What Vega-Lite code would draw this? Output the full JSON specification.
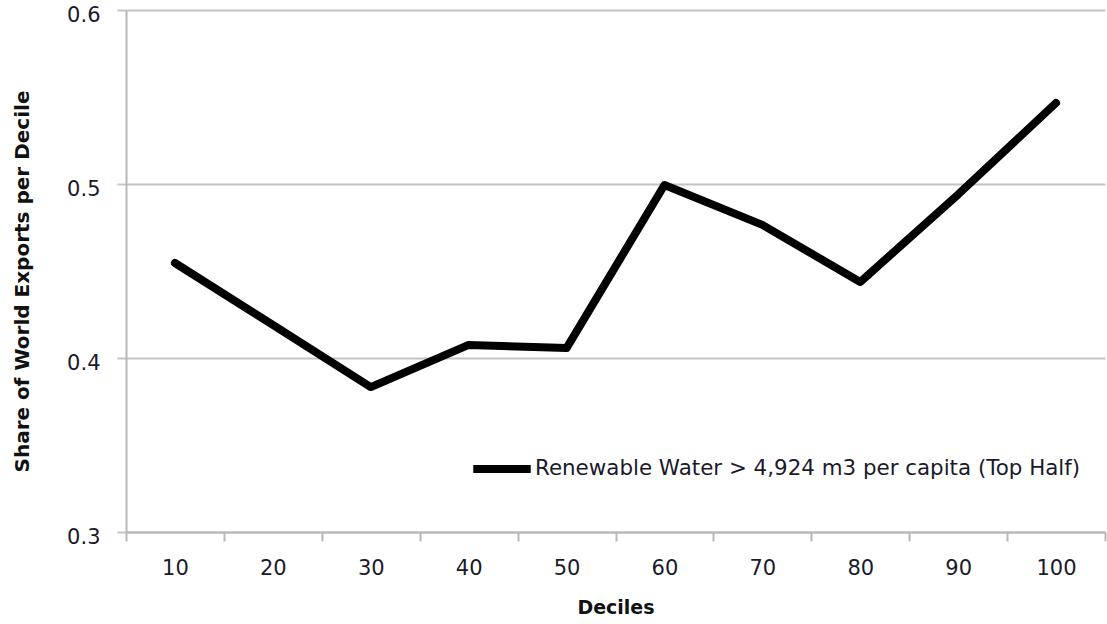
{
  "$schema": "https://vega.github.io/schema/vega-lite/v6.json",
  "width": 979,
  "height": 522,
  "autosize": {"type": "none"},
  "padding": {"left": 126, "top": 10, "right": 2, "bottom": 92},
  "background": "white",
  "config": {
    "view": {"stroke": null},
    "font": "DejaVu Sans"
  },
  "data": {
    "values": [
      {"decile": "10", "share": 0.4546, "series": "Renewable Water > 4,924 m3 per capita (Top Half)"},
      {"decile": "20", "share": 0.419, "series": "Renewable Water > 4,924 m3 per capita (Top Half)"},
      {"decile": "30", "share": 0.3833, "series": "Renewable Water > 4,924 m3 per capita (Top Half)"},
      {"decile": "40", "share": 0.4075, "series": "Renewable Water > 4,924 m3 per capita (Top Half)"},
      {"decile": "50", "share": 0.4057, "series": "Renewable Water > 4,924 m3 per capita (Top Half)"},
      {"decile": "60", "share": 0.4994, "series": "Renewable Water > 4,924 m3 per capita (Top Half)"},
      {"decile": "70", "share": 0.4765, "series": "Renewable Water > 4,924 m3 per capita (Top Half)"},
      {"decile": "80", "share": 0.4437, "series": "Renewable Water > 4,924 m3 per capita (Top Half)"},
      {"decile": "90", "share": 0.494, "series": "Renewable Water > 4,924 m3 per capita (Top Half)"},
      {"decile": "100", "share": 0.5466, "series": "Renewable Water > 4,924 m3 per capita (Top Half)"}
    ]
  },
  "mark": {"type": "line", "strokeWidth": 8, "strokeCap": "round", "strokeJoin": "round"},
  "encoding": {
    "x": {
      "field": "decile",
      "type": "ordinal",
      "sort": null,
      "bandPosition": 0.5,
      "scale": {"type": "band", "paddingInner": 0, "paddingOuter": 0},
      "axis": {
        "title": "Deciles",
        "titleFont": "DejaVu Sans",
        "titleFontSize": 19,
        "titleFontWeight": "bold",
        "titleColor": "#111111",
        "titlePadding": 20,
        "labelAngle": 0,
        "labelFont": "DejaVu Sans",
        "labelFontSize": 21,
        "labelColor": "#1a1a2a",
        "labelPadding": 16,
        "tickBand": "extent",
        "ticks": true,
        "tickSize": 9,
        "tickColor": "#b8b8b8",
        "tickWidth": 2,
        "domainColor": "#b8b8b8",
        "domainWidth": 2,
        "grid": false
      }
    },
    "y": {
      "field": "share",
      "type": "quantitative",
      "scale": {"domain": [0.3, 0.6], "nice": false, "zero": false},
      "axis": {
        "title": "Share of World Exports per Decile",
        "titleFont": "DejaVu Sans",
        "titleFontSize": 20,
        "titleFontWeight": "bold",
        "titleColor": "#111111",
        "titlePadding": 34,
        "titleY": 271,
        "values": [0.3, 0.4, 0.5, 0.6],
        "format": ".1f",
        "labelFont": "DejaVu Sans",
        "labelFontSize": 21,
        "labelColor": "#1a1a2a",
        "labelPadding": 17,
        "labelOffset": 5,
        "tickSize": 9,
        "tickColor": "#c4c4c4",
        "tickWidth": 2,
        "domainColor": "#b8b8b8",
        "domainWidth": 2,
        "grid": true,
        "gridColor": "#c4c4c4",
        "gridWidth": 2
      }
    },
    "color": {
      "field": "series",
      "type": "nominal",
      "scale": {"range": ["#000000"]},
      "legend": {
        "title": null,
        "orient": "none",
        "legendX": 343,
        "legendY": 426,
        "symbolType": "stroke",
        "symbolSize": 3300,
        "symbolStrokeWidth": 8,
        "labelFont": "DejaVu Sans",
        "labelFontSize": 21.4,
        "labelColor": "#1a1a2a",
        "labelOffset": 0,
        "labelLimit": 800
      }
    }
  }
}
